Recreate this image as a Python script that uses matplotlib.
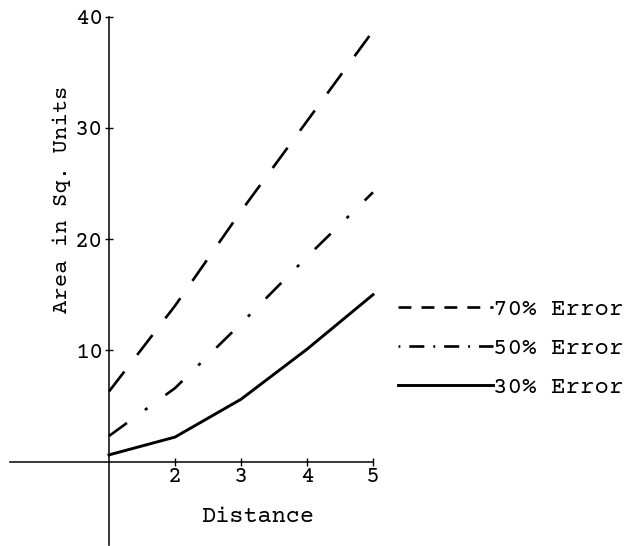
import matplotlib
matplotlib.use("Agg")
import matplotlib.pyplot as plt

plt.rcParams['font.family'] = ['Courier Prime', 'FreeMono', 'DejaVu Sans Mono']

# data
distance = [1, 2, 3, 4, 5]
err70 = [6.3, 14.0, 22.5, 30.6, 38.7]
err50 = [2.3, 6.6, 12.4, 18.4, 24.2]
err30 = [0.6, 2.2, 5.6, 10.1, 15.0]

x_ticks = [2, 3, 4, 5]
y_ticks = [10, 20, 30, 40]

W, H = 626, 546
fig = plt.figure(figsize=(W / 100, H / 100), dpi=100)
# axes placed so that x=1 / y=0 fall where the reference axes cross
ax = fig.add_axes([10 / W, 1 / H, 376.2 / W, 534 / H])
ax.set_xlim(-0.5, 5.2)
ax.set_ylim(-7.5, 40.5)

ax.plot(distance, err70, color="black", lw=1.9, linestyle=(0, (9.5, 8)),
        label="70% Error")
ax.plot(distance, err50, color="black", lw=1.9,
        linestyle=(0, (8.4, 8.4, 1.2, 8.4)), label="50% Error")
ax.plot(distance, err30, color="black", lw=2.1, label="30% Error")

# axes crossing at (1, 0)
for s in ["top", "right"]:
    ax.spines[s].set_visible(False)
ax.spines["left"].set_position(("data", 1))
ax.spines["bottom"].set_position(("data", 0))
ax.spines["left"].set_bounds(-7.5, 40)
ax.spines["bottom"].set_bounds(-0.5, 5)
for s in ["left", "bottom"]:
    ax.spines[s].set_linewidth(1.1)

ax.set_xticks(x_ticks)
ax.set_yticks(y_ticks)
ax.tick_params(direction="inout", length=6, width=1.0, labelsize=17, pad=1)

ax.set_xlabel("Distance", fontsize=17)
ax.xaxis.set_label_coords(3.25, -5.0, transform=ax.transData)
ax.xaxis.label.set_va("center")
ax.set_ylabel("Area in Sq. Units", fontsize=16)
ax.yaxis.set_label_coords(0.29, 23.6, transform=ax.transData)
ax.yaxis.label.set_va("center")

leg = ax.legend(loc="upper left", bbox_to_anchor=(398 / W, 1 - 298 / H),
                bbox_transform=fig.transFigure, frameon=False, fontsize=17.5,
                handlelength=3.9, handletextpad=0.0, borderpad=0,
                borderaxespad=0, labelspacing=0.7)
# shorter dashes in the key, as in the reference
leg_lines = leg.get_lines()
leg_lines[0].set_linestyle((0, (4.9, 3.8)))
leg_lines[1].set_linestyle((0, (0.7, 3.4, 5.7, 3.4)))

fig.savefig("out.png", dpi=100)
